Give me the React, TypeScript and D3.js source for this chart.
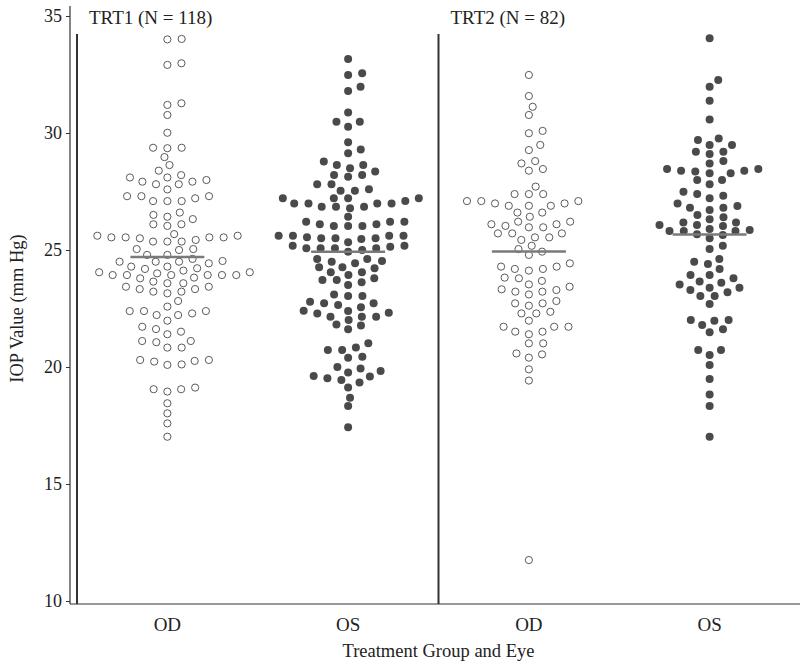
import React, { useEffect, useRef } from "react";
import * as d3 from "d3";

const panels = ["TRT1 (N = 118)", "TRT2 (N = 82)"];
const categories = ["TRT1 OD", "TRT1 OS", "TRT2 OD", "TRT2 OS"];
const eyeLabels = ["OD", "OS", "OD", "OS"];
const yTicks = [10, 15, 20, 25, 30, 35];

// IOP readings (mm Hg)
const trt1OD = [
  34.02, 34.0, 32.91, 32.98, 31.2, 31.27, 30.77, 30.01, 29.37, 29.37, 29.35,
  28.97, 28.63, 28.39, 28.1, 28.2, 27.99, 28.1, 27.81, 27.92, 27.92, 27.81,
  27.59, 27.3, 27.21, 27.09, 27.09, 27.09, 27.3, 27.3, 26.5, 26.42, 26.6,
  26.32, 26.1, 26.03, 26.1, 25.61, 25.54, 25.36, 25.54, 25.43, 25.54, 25.54,
  25.36, 25.61, 25.36, 25.68, 25.04, 25.0, 25.04, 24.79, 24.79, 24.53, 24.5,
  24.43, 24.5, 24.5, 24.62, 24.22, 24.0, 24.05, 23.79, 23.93, 23.93, 23.93,
  23.93, 23.93, 23.93, 23.82, 24.05, 24.12, 24.19, 24.29, 24.29, 23.58,
  23.33, 23.43, 23.22, 23.43, 23.15, 23.58, 23.22, 23.65, 23.33, 22.82,
  22.58, 22.22, 22.39, 21.98, 22.39, 22.22, 22.39, 22.29, 21.62, 21.4, 21.51,
  21.72, 21.11, 20.83, 21.06, 20.83, 21.11, 20.3, 20.23, 20.09, 20.11, 20.26,
  20.3, 19.05, 18.95, 19.05, 19.12, 18.45, 18.02, 17.59, 17.02, 25.5,
];

const trt1OS = [
  33.16, 32.48, 32.55, 31.98, 31.8, 30.88, 30.48, 30.48, 30.27, 29.6, 29.3,
  29.13, 28.63, 28.49, 28.63, 28.78, 28.2, 28.13, 28.2, 28.35, 27.81, 27.81,
  27.53, 27.53, 27.6, 27.21, 27.21, 27.21, 27.21, 26.99, 26.99, 26.85, 26.85,
  26.99, 26.78, 26.99, 27.09, 26.85, 26.42, 26.21, 26.1, 26.03, 26.03, 26.03,
  26.1, 26.21, 26.21, 25.61, 25.61, 25.5, 25.47, 25.5, 25.54, 25.61, 25.61,
  25.5, 25.18, 25.07, 25.07, 25.14, 24.93, 25.0, 25.07, 25.07, 25.18, 25.33,
  24.62, 24.5, 24.43, 24.53, 24.62, 24.26, 24.05, 23.93, 24.05, 24.22, 24.26,
  23.72, 23.62, 23.5, 23.72, 23.79, 23.03, 23.03, 23.1, 22.72, 22.29, 22.65,
  22.15, 22.39, 22.01, 22.55, 22.15, 22.72, 22.15, 22.79, 22.32, 22.4, 21.77,
  21.61, 21.82, 21.01, 20.73, 20.73, 20.83, 20.44, 20.4, 19.94, 20.0, 19.76,
  19.59, 19.62, 19.83, 19.44, 19.52, 19.12, 19.34, 18.69, 18.33, 17.42,
];

const trt2OD = [
  32.48, 31.58, 31.12, 30.77, 29.99, 30.09, 29.49, 29.27, 28.7, 28.8, 28.39,
  28.46, 27.71, 27.39, 27.39, 27.39, 27.09, 26.99, 26.89, 26.89, 26.89, 26.99,
  27.09, 27.09, 26.6, 26.42, 26.6, 26.21, 26.1, 25.97, 25.97, 26.03, 26.1,
  26.21, 25.71, 25.54, 25.43, 25.54, 25.71, 25.71, 25.04, 24.93, 25.18, 24.79,
  24.43, 24.29, 24.19, 24.12, 24.19, 24.29, 23.82, 23.68, 23.79, 23.53, 23.22,
  23.43, 23.1, 23.32, 23.22, 23.29, 22.72, 22.62, 22.29, 22.72, 22.29, 22.82,
  22.36, 21.98, 21.72, 21.72, 21.72, 21.51, 21.4, 21.51, 21.01, 21.01, 20.54,
  20.58, 20.4, 19.9, 19.42, 11.75,
];

const trt2OS = [
  34.05, 32.27, 31.98, 31.38, 30.58, 29.7, 29.77, 29.49, 29.49, 29.2, 29.1,
  29.2, 28.7, 28.8, 28.46, 28.28, 28.39, 28.39, 28.35, 28.46, 28.28, 27.99,
  27.99, 27.81, 27.49, 27.39, 27.21, 27.32, 26.99, 26.88, 26.81, 26.81, 26.71,
  26.5, 26.4, 26.31, 26.18, 26.07, 26.03, 26.07, 26.18, 25.81, 25.67, 25.9,
  25.85, 25.81, 25.81, 25.5, 25.64, 25.04, 25.18, 24.5, 24.4, 24.62, 24.19,
  23.93, 23.93, 23.6, 23.79, 23.53, 23.19, 23.39, 23.03, 23.39, 23.03, 23.65,
  23.29, 22.69, 22.01, 21.61, 21.98, 21.48, 22.01, 21.79, 20.73, 20.73, 20.51,
  20.09, 19.49, 18.83, 18.33, 17.02,
];

const seriesValues = [trt1OD, trt1OS, trt2OD, trt2OS];
const filled = [false, true, false, true];

const W = 800;
const H = 665;
const FONT = "'Liberation Serif', 'DejaVu Serif', serif";

// simple beeswarm: place each point as close to the centre as it can go
function swarm(vals: number[], y: (v: number) => number, rx: number, ry: number) {
  const pts = vals.map((v) => ({ v, py: y(v), dx: 0 }));
  const order = [...pts].sort((a, b) => a.v - b.v);
  const placed: typeof pts = [];
  for (const p of order) {
    const near = placed.filter((q) => Math.abs(q.py - p.py) < ry);
    const cands = [0];
    near.forEach((q) => {
      const t = (q.py - p.py) / ry;
      const off = rx * Math.sqrt(1 - t * t);
      cands.push(q.dx + off, q.dx - off);
    });
    cands.sort((a, b) => Math.abs(a) - Math.abs(b));
    const ok = cands.find((c) =>
      near.every((q) => {
        const ex = (c - q.dx) / rx;
        const ey = (q.py - p.py) / ry;
        return ex * ex + ey * ey >= 0.999;
      })
    );
    p.dx = ok ?? 0;
    placed.push(p);
  }
  return pts;
}

const App = () => {
  const ref = useRef<SVGSVGElement>(null);

  useEffect(() => {
    const svg = d3.select(ref.current);
    svg.selectAll("*").remove();

    const y = d3.scaleLinear().domain([10, 35]).range([601, 16]);
    const x = d3.scaleBand().domain(categories).range([77, 800]).padding(0);
    const plotBottom = 604;
    const panelTop = 34;

    // y axis
    const yAxis = svg
      .append("g")
      .attr("transform", "translate(70,0)")
      .call(d3.axisLeft(y).tickValues(yTicks).tickSize(4).tickPadding(4));
    yAxis.select(".domain").remove();
    yAxis.selectAll("line").attr("stroke", "#333");
    yAxis
      .selectAll("text")
      .attr("font-family", FONT)
      .attr("font-size", 18)
      .attr("fill", "#222");
    svg
      .append("line")
      .attr("x1", 70)
      .attr("x2", 70)
      .attr("y1", 6)
      .attr("y2", plotBottom)
      .attr("stroke", "#333")
      .attr("stroke-width", 1.2);

    // bottom line
    svg
      .append("line")
      .attr("x1", 70)
      .attr("x2", W)
      .attr("y1", plotBottom)
      .attr("y2", plotBottom)
      .attr("stroke", "#333")
      .attr("stroke-width", 1.2);

    // panel borders and strip titles
    panels.forEach((label, i) => {
      const left = x(categories[i * 2]) as number;
      svg
        .append("line")
        .attr("x1", left)
        .attr("x2", left)
        .attr("y1", panelTop)
        .attr("y2", plotBottom)
        .attr("stroke", "#333")
        .attr("stroke-width", 2);
      svg
        .append("text")
        .attr("x", left + 12)
        .attr("y", 24)
        .attr("font-family", FONT)
        .attr("font-size", 19)
        .attr("fill", "#222")
        .text(label);
    });

    // points
    seriesValues.forEach((vals, i) => {
      const cx = (x(categories[i]) as number) + x.bandwidth() / 2;
      const pts = swarm(vals, y, 14.3, 8.5);
      svg
        .append("g")
        .selectAll("circle")
        .data(pts)
        .join("circle")
        .attr("cx", (d) => cx + d.dx)
        .attr("cy", (d) => d.py)
        .attr("r", filled[i] ? 4 : 3.6)
        .attr("fill", filled[i] ? "#4a4a4a" : "#fff")
        .attr("stroke", filled[i] ? "none" : "#5a5a5a")
        .attr("stroke-width", 1);

      const m = d3.mean(vals) as number;
      svg
        .append("line")
        .attr("x1", cx - 37)
        .attr("x2", cx + 37)
        .attr("y1", y(m))
        .attr("y2", y(m))
        .attr("stroke", "#7a7a7a")
        .attr("stroke-width", 2.5);

      svg
        .append("text")
        .attr("x", cx)
        .attr("y", 631)
        .attr("text-anchor", "middle")
        .attr("font-family", FONT)
        .attr("font-size", 19)
        .attr("fill", "#222")
        .text(eyeLabels[i]);
    });

    // axis titles
    svg
      .append("text")
      .attr("x", (77 + W) / 2)
      .attr("y", 657)
      .attr("text-anchor", "middle")
      .attr("font-family", FONT)
      .attr("font-size", 18.5)
      .attr("fill", "#222")
      .text("Treatment Group and Eye");

    svg
      .append("text")
      .attr("transform", `translate(23,${(16 + 601) / 2}) rotate(-90)`)
      .attr("text-anchor", "middle")
      .attr("font-family", FONT)
      .attr("font-size", 18.5)
      .attr("fill", "#222")
      .text("IOP Value (mm Hg)");
  }, []);

  return (
    <svg
      ref={ref}
      width={W}
      height={H}
      style={{ position: "absolute", left: 0, top: 0, background: "#fff" }}
    />
  );
};

export default App;
